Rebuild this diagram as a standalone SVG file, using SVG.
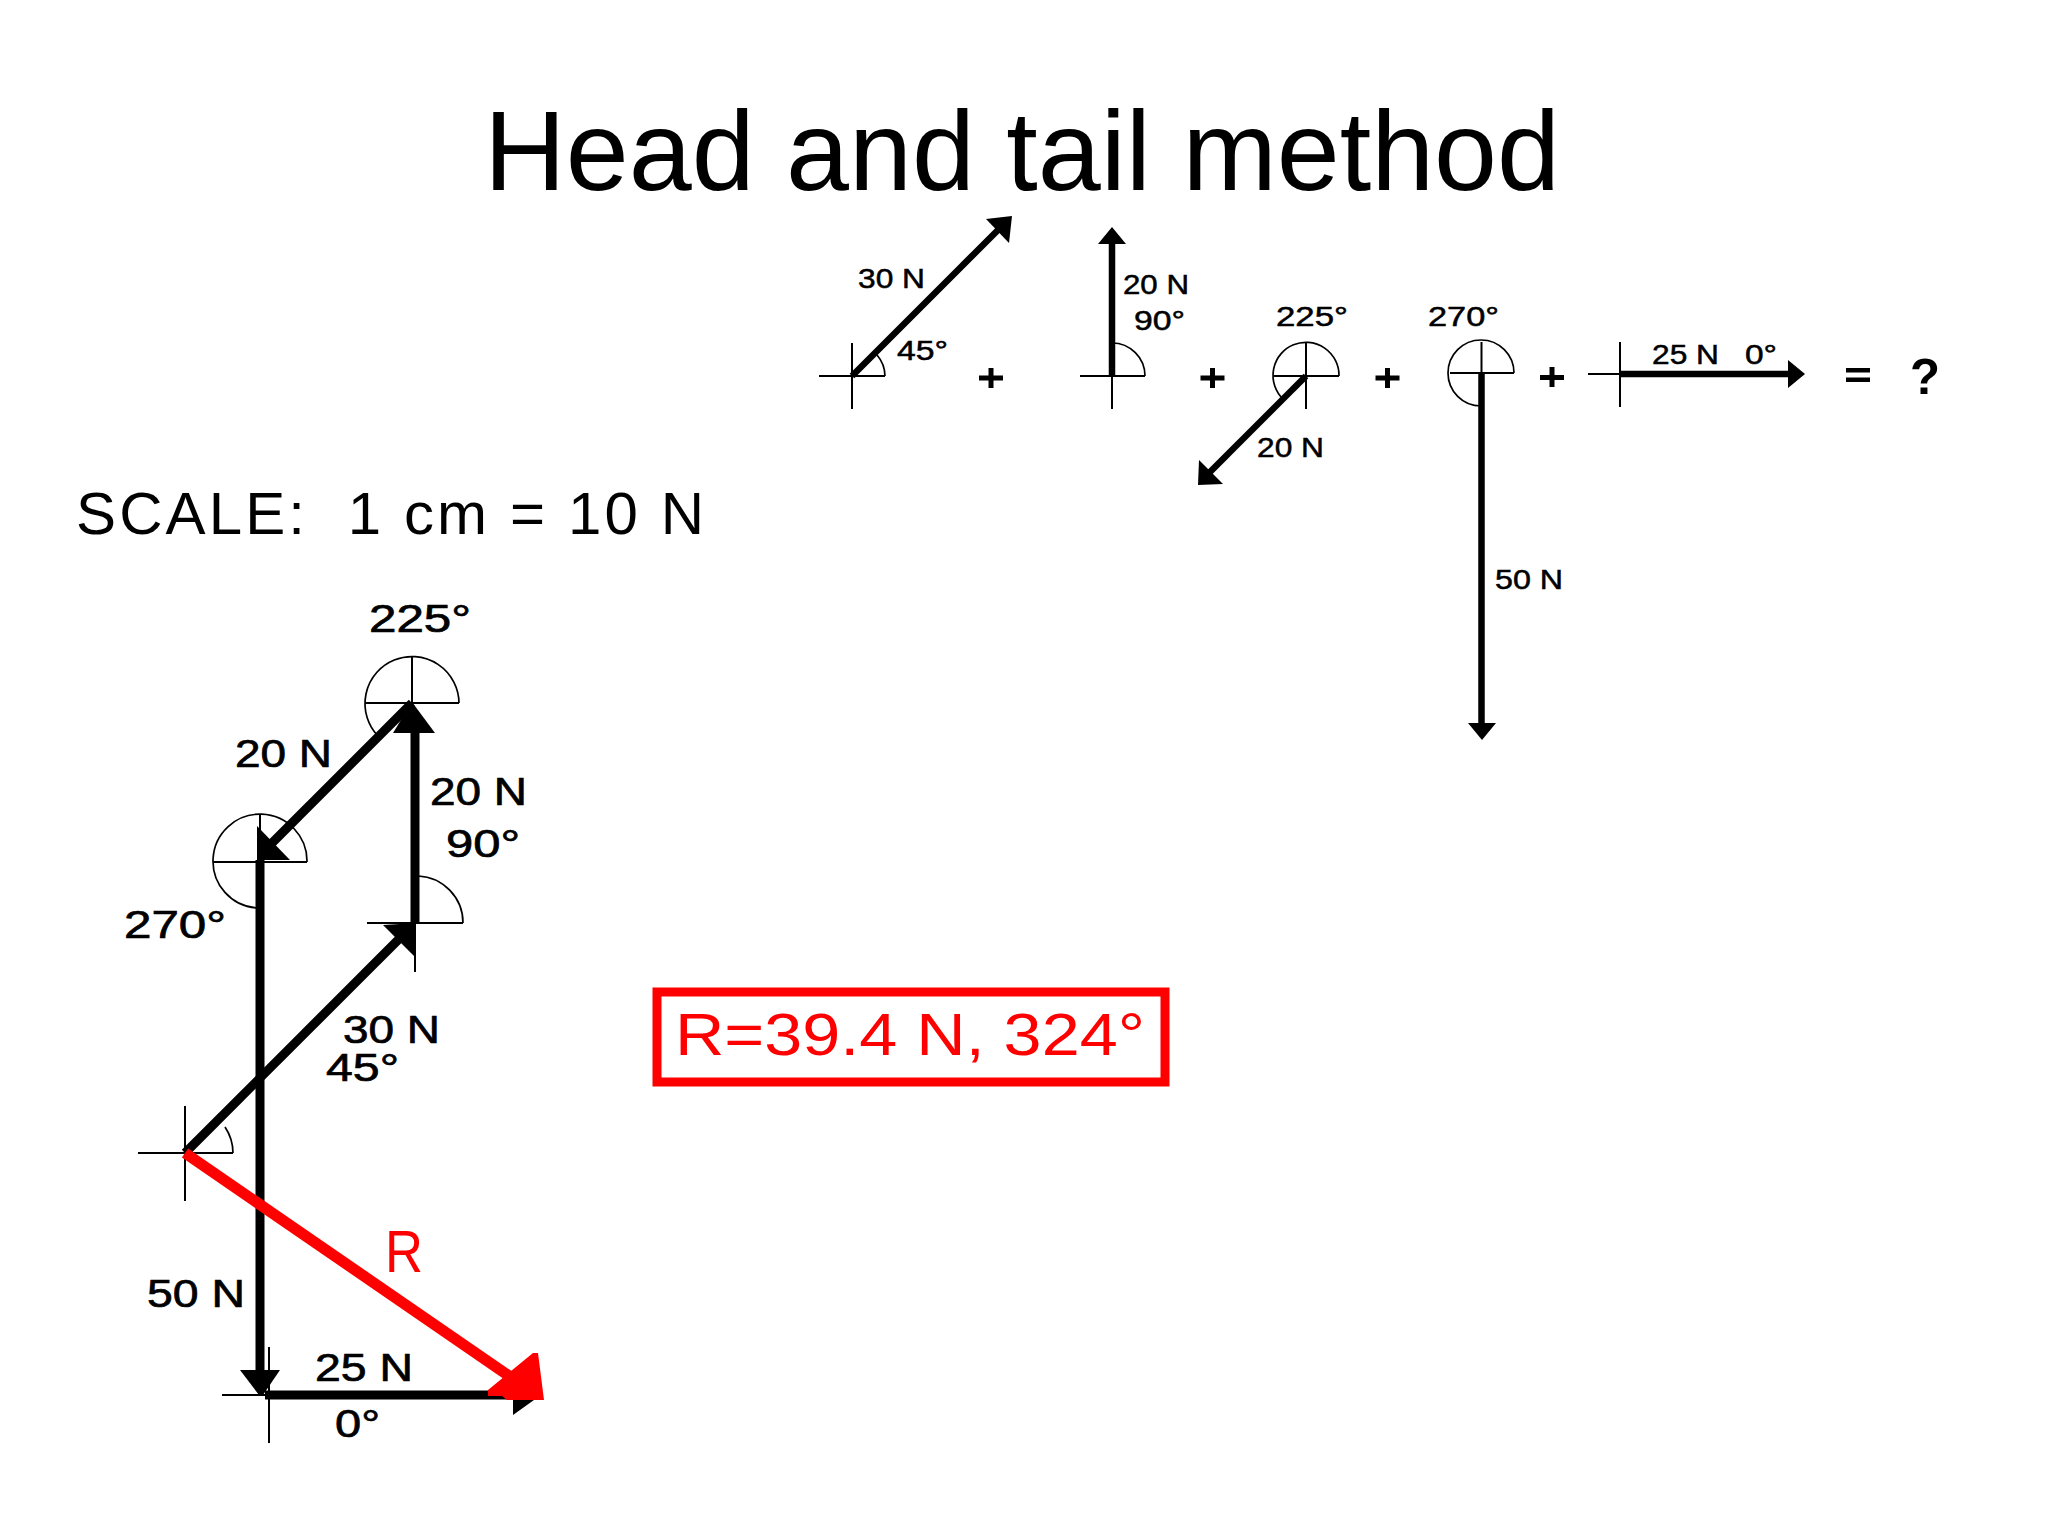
<svg xmlns="http://www.w3.org/2000/svg" width="2048" height="1536" viewBox="0 0 2048 1536">
<style>
text{font-family:"Liberation Sans",Arial,sans-serif;fill:#000;white-space:pre}
.title{font-size:113px}
.s{font-size:27px;stroke:#000;stroke-width:.5}
.b{font-size:39px;stroke:#000;stroke-width:.7}
.big{font-size:60px}
.red{fill:#f00}
.ax{fill:none;stroke:#000;stroke-width:2}
.arc{fill:none;stroke:#000;stroke-width:1.7}
.v1{stroke:#000;stroke-width:6.500;fill:none}
.v2{stroke:#000;stroke-width:9;fill:none}
.r{stroke:#f00;stroke-width:11;fill:none}
.op{font-weight:bold;font-size:50px}
</style>
<rect width="2048" height="1536" fill="#fff"/>
<text id="title" class="title" x="484" y="190" textLength="1076" lengthAdjust="spacingAndGlyphs">Head and tail method</text>

<g id="v30-top">
<path class="ax" d="M819 376H885M852 343V409"/><path class="arc" d="M885 376A33 33 0 0 0 877 355"/>
<text class="s" x="858" y="288" textLength="67" lengthAdjust="spacingAndGlyphs">30 N</text>
<text class="s" x="897" y="360" textLength="51" lengthAdjust="spacingAndGlyphs">45°</text>
</g>
<g id="v20-top">
<path class="ax" d="M1080 376H1145M1112 343V409"/><path class="arc" d="M1145 376A33 33 0 0 0 1112 343"/>
<text class="s" x="1123" y="294" textLength="66" lengthAdjust="spacingAndGlyphs">20 N</text>
<text class="s" x="1134" y="330" textLength="51" lengthAdjust="spacingAndGlyphs">90°</text>
</g>
<g id="v225-top">
<path class="ax" d="M1274 376H1339M1306 343V409"/><path class="arc" d="M1339 376A33 33 0 1 0 1283 399"/>
<text class="s" x="1276" y="326" textLength="72" lengthAdjust="spacingAndGlyphs">225°</text>
<text class="s" x="1257" y="457" textLength="67" lengthAdjust="spacingAndGlyphs">20 N</text>
</g>
<g id="v270-top">
<path class="ax" d="M1450 373H1514M1481.500 342V373"/><path class="arc" d="M1514 373A33 33 0 1 0 1481 406"/>
<text class="s" x="1428" y="326" textLength="71" lengthAdjust="spacingAndGlyphs">270°</text>
<text class="s" x="1495" y="589" textLength="68" lengthAdjust="spacingAndGlyphs">50 N</text>
</g>
<g id="v25-top">
<path class="ax" d="M1588 374H1620M1620 342V407"/>
<text class="s" x="1652" y="364" textLength="67" lengthAdjust="spacingAndGlyphs">25 N</text>
<text class="s" x="1745" y="364" textLength="32" lengthAdjust="spacingAndGlyphs">0°</text>
</g>
<g id="operators">
<path d="M979 375.500H1003V380.500H979ZM988.500 368H993.500V388H988.500Z"/>
<path d="M1200.500 375.500H1224.500V380.500H1200.500ZM1210 368H1215V388H1210Z"/>
<path d="M1375.500 375.500H1399.500V380.500H1375.500ZM1385 368H1390V388H1385Z"/>
<path d="M1540 375H1564V380H1540ZM1549.500 367H1554.500V387H1549.500Z"/>
<path d="M1846 368H1870V372.500H1846ZM1846 377.500H1870V382H1846Z"/>
<text class="op" x="1910" y="394" textLength="30" lengthAdjust="spacingAndGlyphs">?</text>
</g>
<g id="scale"><text class="big" x="76" y="534" textLength="628" lengthAdjust="spacing">SCALE:  1 cm = 10 N</text></g>

<g id="node-225">
<path class="ax" d="M365 703H459M412 657V703"/><path class="arc" d="M459 703A47 47 0 1 0 378 736"/>
<text class="b" x="369" y="632" textLength="102" lengthAdjust="spacingAndGlyphs">225°</text>
<text class="b" x="235" y="767" textLength="97" lengthAdjust="spacingAndGlyphs">20 N</text>
</g>
<g id="node-90">
<path class="ax" d="M367 923H463M415 923V972"/><path class="arc" d="M463 923A47 47 0 0 0 418 876"/>
<text class="b" x="430" y="805" textLength="97" lengthAdjust="spacingAndGlyphs">20 N</text>
<text class="b" x="446" y="857" textLength="74" lengthAdjust="spacingAndGlyphs">90°</text>
</g>
<g id="node-270">
<path class="ax" d="M213 862H307M260 814V862"/><path class="arc" d="M307 862A47 47 0 1 0 257 908"/>
<text class="b" x="124" y="938" textLength="102" lengthAdjust="spacingAndGlyphs">270°</text>
<text class="b" x="147" y="1307" textLength="98" lengthAdjust="spacingAndGlyphs">50 N</text>
</g>
<g id="node-45">
<path class="ax" d="M138 1153H233M185 1106V1201"/><path class="arc" d="M233 1153A47 47 0 0 0 225 1127"/>
<text class="b" x="343" y="1043" textLength="97" lengthAdjust="spacingAndGlyphs">30 N</text>
<text class="b" x="326" y="1081" textLength="73" lengthAdjust="spacingAndGlyphs">45°</text>
</g>
<g id="node-0">
<path class="ax" d="M222 1395H269M269 1347V1443"/>
<text class="b" x="315" y="1381" textLength="98" lengthAdjust="spacingAndGlyphs">25 N</text>
<text class="b" x="335" y="1437" textLength="45" lengthAdjust="spacingAndGlyphs">0°</text>
</g>
<g id="result">
<text x="385" y="1272" font-size="59" class="red" textLength="38" lengthAdjust="spacingAndGlyphs">R</text>
<rect x="657" y="992" width="508" height="90" fill="none" stroke="#f00" stroke-width="9"/>
<text x="675" y="1055" font-size="59" class="red" textLength="470" lengthAdjust="spacingAndGlyphs">R=39.4 N, 324°</text>
</g>

<g id="connectors">
<path class="v1" d="M852 376L1003 225"/><path d="M1012 216L986 219L1009 243Z"/>
<path class="v1" d="M1112 376V240"/><path d="M1112 227L1126 244H1098Z"/>
<path class="v1" d="M1306 376L1206 476"/><path d="M1198 485L1199 460L1223 484Z"/>
<path class="v1" d="M1481.500 373V725"/><path d="M1468 723H1496L1482 740Z"/>
<path class="v1" d="M1620 374H1792"/><path d="M1788 360L1805 374L1788 388Z"/>
<path class="v2" d="M185 1153L400 938"/><path d="M416 923L383 925L415 957Z"/>
<path class="v2" d="M415 923V730"/><path d="M412 702L435 733H393Z"/>
<path class="v2" d="M412 703L272 843"/><path d="M257 826L290 860H257Z"/>
<path class="v2" d="M260 860V1375"/><path d="M240 1370H280L263 1395H259Z"/>
<path class="v2" d="M265 1395H520"/><path d="M513 1375V1415L541 1395Z"/>
<path class="r" d="M185 1153L515 1380"/><path fill="#f00" d="M533 1353L538 1353L544 1400L507 1400L502 1396L488 1396L488 1390Z"/>
</g>
</svg>
